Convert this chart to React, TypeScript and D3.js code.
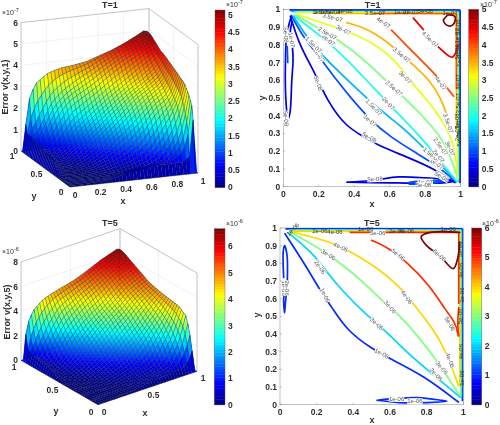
import React from "react";
import * as d3 from "d3";

type Pt = [number, number];
type Lab = [string, number, number, number];

const gridNodes = [0, 0.025, 0.05, 0.1, 0.2, 0.3, 0.4, 0.5, 0.6, 0.7, 0.8, 0.9, 0.95, 0.975, 1];
const zero = gridNodes.map(() => 0);

const surfaceT1 = [
  zero,
  [0, 0, 0, 0.01, 0.03, 0.05, 0.2, 0.4, 0.45, 0.5, 0.5, 0.5, 0.7, 2.6, 0],
  [0, 0, 0.01, 0.02, 0.05, 0.1, 0.3, 0.5, 0.6, 0.65, 0.7, 0.8, 1.6, 3.2, 0],
  [0, 0, 0.01, 0.02, 0.02, 0.03, 0.05, 0.1, 0.15, 0.25, 0.45, 1.3, 2.6, 3.5, 0],
  [0, 0.05, 0.02, 0.02, 0.03, 0.08, 0.15, 0.25, 0.4, 0.75, 1.5, 2.6, 3.4, 3.9, 0],
  [0, 0.2, 0.1, 0.03, 0.08, 0.2, 0.4, 0.7, 1.05, 1.65, 2.5, 2.9, 3.65, 4.05, 0],
  [0, 0.5, 0.4, 0.05, 0.15, 0.35, 0.75, 1.25, 1.75, 2.35, 2.9, 3.3, 3.9, 4.2, 0],
  [0, 0.6, 0.5, 0.1, 0.3, 0.7, 1.15, 1.7, 2.25, 2.8, 3.2, 3.6, 4.1, 4.35, 0],
  [0, 0.6, 0.5, 0.2, 0.5, 1, 1.65, 2.1, 2.6, 3.05, 3.4, 3.9, 4.3, 4.5, 0],
  [0, 0.65, 0.55, 0.3, 0.75, 1.6, 2.05, 2.55, 3, 3.4, 3.85, 4.25, 4.45, 4.6, 0],
  [0, 0.8, 0.55, 0.6, 1.7, 2.45, 2.8, 3.15, 3.6, 4, 4.3, 4.65, 4.75, 4.8, 0],
  [0, 0.9, 0.7, 1.1, 2.4, 2.9, 3.3, 3.65, 4, 4.3, 4.6, 4.9, 5, 5, 0],
  [0, 0.8, 1.5, 2.4, 3.2, 3.6, 3.75, 3.9, 4.15, 4.4, 4.7, 5.05, 5.1, 5, 0],
  [0, 1.2, 2.5, 3.2, 3.6, 3.75, 3.8, 3.9, 4.1, 4.3, 4.55, 4.85, 5.05, 5, 0],
  zero,
];

const surfaceT5 = [
  zero,
  [0, 0, 0, 0.01, 0.01, 0.02, 0.05, 0.2, 0.3, 0.35, 0.4, 0.5, 1, 1.6, 0],
  [0, 0, 0, 0.01, 0.01, 0.03, 0.06, 0.2, 0.4, 0.5, 0.6, 1, 2.2, 2.7, 0],
  [0, 0, 0, 0.01, 0.02, 0.05, 0.1, 0.2, 0.3, 0.45, 0.75, 2, 3.6, 4.2, 0],
  [0, 0, 0, 0.01, 0.05, 0.1, 0.25, 0.4, 0.6, 0.85, 2, 3.3, 4.3, 4.7, 0],
  [0, 0, 0.01, 0.03, 0.1, 0.25, 0.5, 0.8, 1.3, 2.1, 3, 3.9, 4.5, 4.8, 0],
  [0, 0, 0.01, 0.05, 0.2, 0.45, 0.85, 1.4, 2.05, 2.65, 3.5, 4.4, 4.75, 4.9, 0],
  [0, 0.01, 0.02, 0.1, 0.4, 0.8, 1.45, 2.1, 2.75, 3.4, 4.2, 4.7, 4.95, 5.05, 0],
  [0, 0.3, 0.2, 0.15, 0.7, 1.3, 2.1, 2.8, 3.45, 3.9, 4.6, 5, 5.15, 5.25, 0],
  [0, 0.6, 0.4, 0.25, 1.1, 2, 2.7, 3.3, 3.8, 4.45, 5.05, 5.4, 5.55, 5.65, 0],
  [0, 0.7, 0.4, 0.6, 1.8, 2.95, 3.6, 4.2, 4.6, 5.1, 5.55, 5.85, 5.95, 6, 0],
  [0, 0.8, 0.5, 1.5, 3, 4.1, 4.4, 4.75, 5.15, 5.5, 5.85, 6.2, 6.3, 6.4, 0],
  [0, 1, 1.6, 3.1, 4.1, 4.55, 4.85, 5.1, 5.35, 5.65, 6, 6.4, 6.5, 6.5, 0],
  [0, 2.2, 3.2, 3.95, 4.55, 4.8, 5, 5.2, 5.5, 5.85, 6.2, 6.45, 6.6, 6.5, 0],
  zero,
];

// Contour lines, T=1 (level in 1e-7, points in x/y)
const contoursT1: [number, Pt[]][] = [
  [0.5, [[0.04, 0.96], [0.094, 0.79], [0.17, 0.66], [0.254, 0.47], [0.357, 0.338], [0.44, 0.29], [0.536, 0.231], [0.695, 0.169], [0.865, 0.094], [0.968, 0.023]]],
  [1, [[0.045, 0.965], [0.12, 0.83], [0.197, 0.742], [0.3, 0.6], [0.376, 0.507], [0.489, 0.376], [0.6, 0.282], [0.752, 0.188], [0.865, 0.12], [0.974, 0.028]]],
  [1.5, [[0.056, 0.962], [0.16, 0.8], [0.3, 0.66], [0.52, 0.45], [0.68, 0.33], [0.8, 0.21], [0.88, 0.13], [0.976, 0.03]]],
  [2, [[0.06, 0.965], [0.3, 0.78], [0.45, 0.62], [0.555, 0.51], [0.62, 0.44], [0.79, 0.263], [0.865, 0.17], [0.978, 0.03]]],
  [2.5, [[0.07, 0.968], [0.333, 0.818], [0.489, 0.686], [0.583, 0.592], [0.667, 0.517], [0.808, 0.376], [0.92, 0.244], [0.985, 0.04]]],
  [3, [[0.08, 0.97], [0.376, 0.874], [0.526, 0.8], [0.648, 0.695], [0.724, 0.583], [0.846, 0.451], [0.92, 0.33], [0.962, 0.244], [0.985, 0.05]]],
  [3.5, [[0.357, 0.925], [0.47, 0.893], [0.583, 0.818], [0.64, 0.77], [0.733, 0.686], [0.827, 0.6], [0.893, 0.489], [0.92, 0.41]]],
  [4, [[0.61, 0.883], [0.7, 0.79], [0.86, 0.63], [0.925, 0.555], [0.96, 0.51]]],
];
const cornerT1: [number, Pt[]][] = [
  [4.5, [[0.733, 0.95], [0.79, 0.885], [0.865, 0.797], [0.953, 0.73], [0.985, 0.8]]],
  [5, [[0.902, 0.94], [0.93, 0.968], [0.968, 0.958], [0.962, 0.92], [0.94, 0.905], [0.91, 0.92], [0.902, 0.94]]],
  [0.5, [[0.045, 0.96], [0.02, 0.86], [0.012, 0.7], [0.012, 0.55], [0.02, 0.42], [0.027, 0.38], [0.038, 0.42], [0.048, 0.6], [0.055, 0.72], [0.05, 0.8], [0.04, 0.88], [0.05, 0.93]]],
  [1, [[0.022, 0.79], [0.024, 0.74], [0.025, 0.7]]],
  [0.5, [[0.36, 0.025], [0.5, 0.035], [0.65, 0.055], [0.8, 0.05], [0.92, 0.04], [0.96, 0.03]]],
  [0.5, [[0.36, 0.025], [0.6, 0.022], [0.72, 0.02], [0.9, 0.022], [0.96, 0.03]]],
  [1, [[0.71, 0.025], [0.8, 0.033], [0.9, 0.03], [0.8, 0.016], [0.71, 0.015]]],
];
const ringLevelsT1 = [0.5, 1, 1.5, 2, 2.5, 3, 3.5, 4];
const ringInsetT1 = [0.004, 0.008, 0.012, 0.014, 0.016, 0.019, 0.024, 0.024];
const ringStartT1 = [0.035, 0.04, 0.05, 0.06, 0.07, 0.08, 0.2, 0.52];
const ringEndT1 = [0.02, 0.025, 0.03, 0.035, 0.04, 0.05, 0.33, 0.55];

const labelsT1: Lab[] = [
  ["5e-08", 0.197, 0.583, 70], ["5e-08", 0.485, 0.278, 30], ["1e-07", 0.2, 0.742, 55], ["1e-07", 0.489, 0.372, 42],
  ["1.5e-07", 0.17, 0.8, 45], ["1.5e-07", 0.51, 0.447, 45], ["2e-07", 0.254, 0.827, 40], ["2e-07", 0.592, 0.47, 48],
  ["2.5e-07", 0.248, 0.865, 30], ["2.5e-07", 0.624, 0.555, 42], ["3e-07", 0.338, 0.883, 28], ["3e-07", 0.686, 0.617, 45],
  ["3.5e-07", 0.278, 0.953, 15], ["3.5e-07", 0.667, 0.742, 40], ["4e-07", 0.564, 0.925, 35], ["4e-07", 0.887, 0.583, 55],
  ["4.5e-07", 0.827, 0.831, 45], ["5e-08", 0.893, 0.056, 30], ["1e-07", 0.865, 0.13, 35], ["1.5e-07", 0.836, 0.179, 40],
  ["2e-07", 0.874, 0.173, 50], ["2.5e-07", 0.887, 0.226, 55], ["3e-07", 0.94, 0.216, 65], ["3.5e-07", 0.93, 0.357, 70],
  ["5e-08", 0.517, 0.043, -3], ["1e-07", 0.8, 0.028, 0], ["5e-08", 0.79, 0.008, 0],
  ["5e-08", 0.015, 0.855, 85], ["1e-07", 0.047, 0.827, 80], ["5e-08", 0.015, 0.385, 85],
];
const clumpT1: Lab[] = [
  ["1e-07", 0.207, 0.987, 0], ["1.5e-07", 0.23, 0.982, 0], ["5e-08", 0.28, 0.987, 0], ["5e-08", 0.348, 0.99, 0],
  ["3.5e-07", 0.517, 0.977, 0], ["1e-07", 0.667, 0.987, 0], ["2e-07", 0.72, 0.983, 0], ["5e-08", 0.8, 0.992, 0], ["1e-07", 0.94, 0.977, 0],
  ["5e-08", 0.985, 0.9, -90], ["1e-07", 0.98, 0.85, -90], ["2e-07", 0.99, 0.8, -90], ["5e-08", 0.98, 0.76, -90], ["1e-07", 0.99, 0.72, -90],
  ["4e-07", 0.985, 0.59, -90], ["3.5e-07", 0.985, 0.47, -90], ["5e-08", 0.98, 0.37, -90], ["1e-07", 0.99, 0.33, -90], ["2e-07", 0.98, 0.3, -90], ["5e-08", 0.99, 0.27, -90],
];

// Contour lines, T=5 (level in 1e-6)
const contoursT5: [number, Pt[]][] = [
  [1, [[0.027, 0.968], [0.145, 0.78], [0.218, 0.647], [0.282, 0.553], [0.364, 0.421], [0.5, 0.317], [0.6, 0.26], [0.782, 0.166], [0.973, 0.015]]],
  [2, [[0.045, 0.974], [0.182, 0.855], [0.255, 0.751], [0.345, 0.638], [0.473, 0.506], [0.573, 0.421], [0.709, 0.279], [0.818, 0.185], [0.982, 0.043]]],
  [3, [[0.055, 0.977], [0.218, 0.883], [0.318, 0.811], [0.455, 0.694], [0.564, 0.581], [0.645, 0.515], [0.764, 0.374], [0.855, 0.251], [0.98, 0.053]]],
  [4, [[0.055, 0.98], [0.282, 0.921], [0.382, 0.868], [0.527, 0.779], [0.655, 0.666], [0.727, 0.572], [0.836, 0.43], [0.909, 0.298], [0.973, 0.109]]],
  [5, [[0.5, 0.93], [0.59, 0.89], [0.691, 0.808], [0.818, 0.675], [0.909, 0.525], [0.955, 0.47], [0.973, 0.39]]],
];
const cornerT5: [number, Pt[]][] = [
  [6, [[0.98, 0.975], [0.82, 0.975], [0.77, 0.95], [0.8, 0.9], [0.87, 0.845], [0.945, 0.77], [0.97, 0.83], [0.98, 0.92]]],
  [5, [[0.975, 0.39], [0.97, 0.45], [0.975, 0.55]]],
  [1, [[0.04, 0.7], [0.038, 0.85], [0.025, 0.9], [0.018, 0.87], [0.02, 0.72]]],
  [1, [[0.035, 0.63], [0.03, 0.58], [0.025, 0.52], [0.02, 0.6], [0.025, 0.63]]],
  [1, [[0.53, 0.025], [0.65, 0.037], [0.75, 0.04], [0.88, 0.025], [0.91, 0.02], [0.8, 0.012], [0.65, 0.012], [0.53, 0.025]]],
];
const ringLevelsT5 = [1, 2, 3, 4, 5];
const ringInsetT5 = [0.005, 0.01, 0.014, 0.019, 0.025];
const ringStartT5 = [0.03, 0.05, 0.06, 0.07, 0.38];
const ringEndT5 = [0.02, 0.04, 0.05, 0.1, 0.57];

const labelsT5: Lab[] = [
  ["1e-06", 0.245, 0.619, 65], ["1e-06", 0.555, 0.289, 28], ["2e-06", 0.218, 0.779, 55], ["2e-06", 0.527, 0.458, 42],
  ["2e-06", 0.851, 0.172, 48], ["3e-06", 0.264, 0.849, 32], ["3e-06", 0.6, 0.553, 50], ["3e-06", 0.882, 0.209, 50],
  ["4e-06", 0.331, 0.892, 25], ["4e-06", 0.691, 0.609, 55], ["4e-06", 0.927, 0.251, 70], ["5e-06", 0.645, 0.849, 40],
  ["5e-06", 0.927, 0.458, 60], ["6e-06", 0.869, 0.845, 42], ["5e-06", 0.533, 0.974, 0],
  ["1e-06", 0.636, 0.034, 0], ["1e-06", 0.736, 0.019, 0], ["1e-06", 0.022, 0.66, 90], ["2e-06", 0.04, 0.66, 90],
];
const clumpT5: Lab[] = [
  ["1e-06", 0.07, 0.992, -45], ["2e-06", 0.218, 0.983, 0], ["4e-06", 0.3, 0.977, 0], ["1e-06", 0.467, 0.992, 0], ["2e-06", 0.636, 0.983, 0],
  ["4e-06", 0.69, 0.981, 0], ["1e-06", 0.918, 0.996, 0], ["5e-06", 0.98, 0.88, -90], ["4e-06", 0.987, 0.76, -90], ["3e-06", 0.995, 0.62, -90],
  ["5e-06", 0.98, 0.5, -90], ["4e-06", 0.985, 0.3, -90], ["1e-06", 0.995, 0.15, -90],
];

const xTicksFine = [0, 0.2, 0.4, 0.6, 0.8, 1];
const xTicksCoarse = [0, 0.5, 1];
const yTicksContour = [0, 0.1, 0.2, 0.3, 0.4, 0.5, 0.6, 0.7, 0.8, 0.9, 1];
const zTicksT1 = [0, 1, 2, 3, 4, 5, 6];
const zTicksT5 = [0, 2, 4, 6, 8];
const barTicksT1 = [0, 0.5, 1, 1.5, 2, 2.5, 3, 3.5, 4, 4.5, 5];
const barTicksT5 = [0, 1, 2, 3, 4, 5, 6];

const FONT = "'Liberation Sans', Arial, sans-serif";
const TXT = "#2e2e2e";

function jet(t: number) {
  const v = Math.max(0, Math.min(1, t));
  const c = (o: number) => Math.round(255 * Math.max(0, Math.min(1, 1.5 - Math.abs(4 * v - o))));
  return d3.rgb(c(3), c(2), c(1)).formatHex();
}

function sample(table: number[][], x: number, y: number) {
  const loc = (v: number) => {
    const i = Math.min(gridNodes.length - 2, Math.max(0, d3.bisectRight(gridNodes, v) - 1));
    return [i, (v - gridNodes[i]) / (gridNodes[i + 1] - gridNodes[i])];
  };
  const [i, u] = loc(x);
  const [j, w] = loc(y);
  const a = d3.interpolateNumber(table[j][i], table[j][i + 1])(u);
  const b = d3.interpolateNumber(table[j + 1][i], table[j + 1][i + 1])(u);
  return a + (b - a) * w;
}

// mesh of the surface, built from the table; the inner part is relaxed so the table's nodes leave no creases
function buildMesh(table: number[][], n: number) {
  const mesh = d3.range(n + 1).map((k) => k / n);
  let H = mesh.map((y) => mesh.map((x) => sample(table, x, y)));
  for (let pass = 0; pass < 3; pass++) {
    const next = H.map((r) => r.slice());
    for (let j = 2; j <= n - 2; j++) {
      for (let i = 2; i <= n - 2; i++) {
        next[j][i] = (4 * H[j][i] + H[j][i - 1] + H[j][i + 1] + H[j - 1][i] + H[j + 1][i]) / 8;
      }
    }
    H = next;
  }
  return { mesh, H };
}

function Tx(p: any) {
  const { x, y, children, size = 9, anchor = "middle", rot = 0, weight = 700, fill = TXT } = p;
  return (
    <text x={x} y={y} fontSize={size} fontWeight={weight} fontFamily={FONT} fill={fill} textAnchor={anchor}
      dominantBaseline="central" transform={rot ? `rotate(${rot} ${x} ${y})` : undefined}>{children}</text>
  );
}

function Exponent({ x, y, exp }: { x: number; y: number; exp: string }) {
  return (
    <text x={x} y={y} fontSize={7} fontFamily={FONT} fill={TXT} dominantBaseline="central">
      ×10<tspan dy={-2.5} fontSize={5.5}>{exp}</tspan>
    </text>
  );
}

function ColorBar({ x, y0, y1, w, ticks, zmax, exp, ex, ey }: any) {
  const s = d3.scaleLinear().domain([0, zmax]).range([y1, y0]);
  const steps = d3.range(64);
  return (
    <g>
      {steps.map((k) => (
        <rect key={k} x={x} width={w} y={s((zmax * (k + 1)) / 64)} height={s((zmax * k) / 64) - s((zmax * (k + 1)) / 64) + 0.4}
          fill={jet((k + 0.5) / 64)} />
      ))}
      <rect x={x} y={y0} width={w} height={y1 - y0} fill="none" stroke="#555" strokeWidth={0.4} />
      {ticks.map((t: number) => (
        <Tx key={t} x={x + w + 3} y={s(t)} anchor="start" size={8.5}>{String(t)}</Tx>
      ))}
      <Exponent x={ex} y={ey} exp={exp} />
    </g>
  );
}

function Surface({ table, cfg }: any) {
  const { o, ex, ey, zh, zmax, cmax, zTicks, xTicks, yTicks, n } = cfg;
  const z = d3.scaleLinear().domain([0, zmax]).range([0, -zh]);
  const P = (x: number, y: number, v: number): Pt => [
    o[0] + x * ex[0] + y * ey[0],
    o[1] + x * ex[1] + y * ey[1] + z(v),
  ];
  const line = d3.line();
  const { mesh, H } = buildMesh(table, n);
  const cells: any[] = [];
  for (let j = n - 1; j >= 0; j--) {
    for (let i = n - 1; i >= 0; i--) {
      const xa = mesh[i], xb = mesh[i + 1], ya = mesh[j], yb = mesh[j + 1];
      const q = [H[j][i], H[j][i + 1], H[j + 1][i + 1], H[j + 1][i]];
      const d = line([P(xa, ya, q[0]), P(xb, ya, q[1]), P(xb, yb, q[2]), P(xa, yb, q[3])]) + "Z";
      cells.push(<path key={`${i}-${j}`} d={d} fill={jet(d3.mean(q)! / cmax)} stroke="#06122e" strokeOpacity={0.55} strokeWidth={0.42} />);
    }
  }
  const wall = "#bdbdbd";
  const grid = "#ececec";
  const seg = (a: Pt, b: Pt, c: string, w: number, k: string) => (
    <line key={k} x1={a[0]} y1={a[1]} x2={b[0]} y2={b[1]} stroke={c} strokeWidth={w} />
  );
  return (
    <g>
      {zTicks.map((t: number) => seg(P(0, 1, t), P(1, 1, t), grid, 0.7, `zg1${t}`))}
      {zTicks.map((t: number) => seg(P(1, 1, t), P(1, 0, t), grid, 0.7, `zg2${t}`))}
      {xTicks.map((t: number) => seg(P(t, 1, 0), P(t, 1, zmax), grid, 0.7, `xg${t}`))}
      {yTicks.map((t: number) => seg(P(1, t, 0), P(1, t, zmax), grid, 0.7, `yg${t}`))}
      {seg(P(0, 1, zmax), P(1, 1, zmax), wall, 0.8, "a")}
      {seg(P(1, 1, zmax), P(1, 0, zmax), wall, 0.8, "b")}
      {seg(P(1, 1, 0), P(1, 1, zmax), wall, 0.8, "c")}
      {seg(P(0, 1, 0), P(0, 1, zmax), wall, 0.8, "d")}
      {seg(P(1, 0, 0), P(1, 0, zmax), wall, 0.8, "e")}
      {seg(P(0, 0, 0), P(1, 0, 0), "#555", 0.5, "f")}
      {seg(P(0, 0, 0), P(0, 1, 0), "#555", 0.5, "g")}
      {cells}
      {zTicks.map((t: number) => {
        const p = P(0, 1, t);
        return <Tx key={t} x={p[0] - 3} y={p[1]} anchor="end" size={8.5}>{String(t)}</Tx>;
      })}
      {xTicks.map((t: number) => {
        const p = P(t, 0, 0);
        return <Tx key={t} x={p[0] + cfg.xOff[0]} y={p[1] + cfg.xOff[1]} size={8.5}>{String(t)}</Tx>;
      })}
      {yTicks.map((t: number) => {
        const p = P(0, t, 0);
        return <Tx key={t} x={p[0] + cfg.yOff[0]} y={p[1] + cfg.yOff[1]} size={8.5}>{String(t)}</Tx>;
      })}
    </g>
  );
}

function Contour({ cfg, lines, extra, labels, clump, ringL, ringI, ringS, ringE }: any) {
  const { x0, x1, y0, y1, cmax } = cfg;
  const sx = d3.scaleLinear().domain([0, 1]).range([x0, x1]);
  const sy = d3.scaleLinear().domain([0, 1]).range([y1, y0]);
  const smooth = d3.line<Pt>().x((d) => sx(d[0])).y((d) => sy(d[1])).curve(d3.curveBasis);
  const curve = d3.line<Pt>().x((d) => sx(d[0])).y((d) => sy(d[1])).curve(d3.curveCatmullRom.alpha(0.5));
  const poly = d3.line<Pt>().x((d) => sx(d[0])).y((d) => sy(d[1]));
  const lab = (l: Lab, k: string, bg: boolean) => {
    const [t, x, y, a] = l;
    const w = t.length * 3.1;
    return (
      <g key={k} transform={`translate(${sx(x)} ${sy(y)}) rotate(${a})`}>
        {bg && <rect x={-w / 2} y={-3} width={w} height={6} fill="#fff" />}
        <text fontSize={6} fontFamily={FONT} fill={bg ? "#555" : "#333"} textAnchor="middle" dominantBaseline="central">{t}</text>
      </g>
    );
  };
  return (
    <g>
      <rect x={x0} y={y0} width={x1 - x0} height={y1 - y0} fill="#fff" stroke="#999" strokeWidth={0.6} />
      {ringL.map((l: number, k: number) => {
        const d = ringI[k];
        const pts: Pt[] = [[ringS[k], 1 - d], [1 - d - 0.004, 1 - d], [1 - d, 1 - d - 0.004], [1 - d, ringE[k]]];
        return <path key={k} d={poly(pts)!} fill="none" stroke={jet(l / cmax)} strokeWidth={1.6} />;
      })}
      {lines.map(([l, pts]: [number, Pt[]], k: number) => (
        <path key={k} d={smooth(pts)!} fill="none" stroke={jet(l / cmax)} strokeWidth={1.7} strokeLinecap="round" />
      ))}
      {extra.map(([l, pts]: [number, Pt[]], k: number) => (
        <path key={k} d={curve(pts)!} fill="none" stroke={jet(l / cmax)} strokeWidth={1.7} strokeLinecap="round" />
      ))}
      {labels.map((l: Lab, k: number) => lab(l, `l${k}`, true))}
      {clump.map((l: Lab, k: number) => lab(l, `c${k}`, false))}
      {xTicksFine.map((t) => (
        <g key={t}>
          <line x1={sx(t)} x2={sx(t)} y1={y1} y2={y1 - 2} stroke="#777" strokeWidth={0.4} />
          <Tx x={sx(t)} y={y1 + 7} size={8.5}>{String(t)}</Tx>
        </g>
      ))}
      {yTicksContour.map((t) => (
        <g key={t}>
          <line x1={x0} x2={x0 + 2} y1={sy(t)} y2={sy(t)} stroke="#777" strokeWidth={0.4} />
          <Tx x={x0 - 3} y={sy(t)} anchor="end" size={8.5}>{String(t)}</Tx>
        </g>
      ))}
    </g>
  );
}

const surfaceCfg1 = { o: [70, 187], ex: [128, -14], ey: [-49, -36], zh: 128.4, zmax: 6, cmax: 5.14, zTicks: zTicksT1, xTicks: xTicksFine, yTicks: xTicksCoarse, n: 36, xOff: [5, 8], yOff: [-9, 5] };
const surfaceCfg5 = { o: [98, 404.7], ex: [99, -33.4], ey: [-77, -44.4], zh: 98.3, zmax: 8, cmax: 6.67, zTicks: zTicksT5, xTicks: xTicksCoarse, yTicks: xTicksCoarse, n: 36, xOff: [6, 7], yOff: [-7, 7] };
const contourCfg1 = { x0: 283.3, x1: 460.7, y0: 9.3, y1: 186.7, cmax: 5 };
const contourCfg5 = { x0: 280, x1: 463.3, y0: 228, y1: 404.7, cmax: 6 };

export default function App() {
  return (
    <svg width={500} height={425} viewBox="0 0 500 425"
      style={{ position: "absolute", left: 0, top: 0, background: "#fff", filter: "blur(0.35px)" }}>
      <Surface table={surfaceT1} cfg={surfaceCfg1} />
      <Tx x={110} y={4.5}>T=1</Tx>
      <Exponent x={2} y={12} exp="-7" />
      <Tx x={4.5} y={87} rot={-90}>Error v(x,y,1)</Tx>
      <Tx x={123} y={201}>x</Tx>
      <Tx x={34} y={196}>y</Tx>
      <ColorBar x={215} w={10} y0={10} y1={187.3} ticks={barTicksT1} zmax={5.14} exp="-7" ex={226} ey={4.5} />

      <Contour cfg={contourCfg1} lines={contoursT1} extra={cornerT1} labels={labelsT1} clump={clumpT1}
        ringL={ringLevelsT1} ringI={ringInsetT1} ringS={ringStartT1} ringE={ringEndT1} />
      <Tx x={372.7} y={4.5}>T=1</Tx>
      <Tx x={372} y={204}>x</Tx>
      <Tx x={262} y={98} rot={-90}>y</Tx>
      <ColorBar x={468.7} w={10} y0={9.3} y1={186.7} ticks={barTicksT1} zmax={5} exp="-7" ex={480} ey={4} />

      <Surface table={surfaceT5} cfg={surfaceCfg5} />
      <Tx x={110} y={223}>T=5</Tx>
      <Exponent x={2} y={251} exp="-6" />
      <Tx x={7} y={312} rot={-90}>Error v(x,y,5)</Tx>
      <Tx x={145} y={413}>x</Tx>
      <Tx x={56} y={411}>y</Tx>
      <ColorBar x={214.3} w={10.7} y0={228.7} y1={404.7} ticks={barTicksT5} zmax={6.67} exp="-6" ex={226} ey={223} />

      <Contour cfg={contourCfg5} lines={contoursT5} extra={cornerT5} labels={labelsT5} clump={clumpT5}
        ringL={ringLevelsT5} ringI={ringInsetT5} ringS={ringStartT5} ringE={ringEndT5} />
      <Tx x={372} y={223}>T=5</Tx>
      <Tx x={372} y={419.5}>x</Tx>
      <Tx x={257} y={315} rot={-90}>y</Tx>
      <ColorBar x={471.7} w={10} y0={228} y1={404.7} ticks={barTicksT5} zmax={6} exp="-6" ex={482} ey={223} />
    </svg>
  );
}
